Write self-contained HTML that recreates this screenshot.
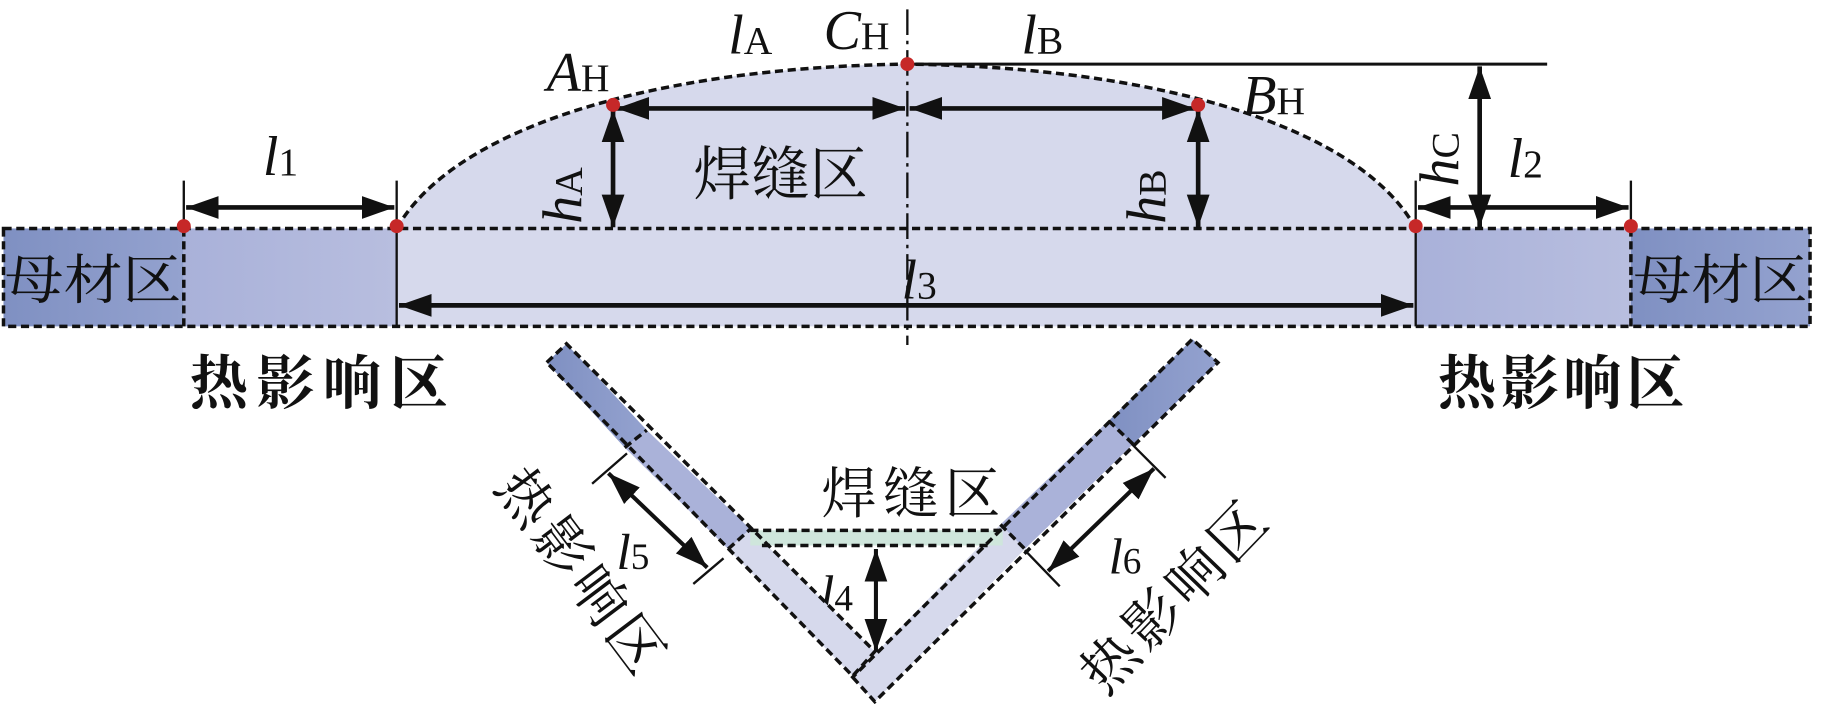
<!DOCTYPE html>
<html><head><meta charset="utf-8"><style>
html,body{margin:0;padding:0;background:#fff;}
svg{display:block;}
</style></head><body>
<svg width="1824" height="704" viewBox="0 0 1568 604" preserveAspectRatio="none" xmlns="http://www.w3.org/2000/svg">
<defs>
<marker id="a" viewBox="0 0 10 10" refX="10" refY="5" markerWidth="28" markerHeight="28" markerUnits="userSpaceOnUse" orient="auto-start-reverse"><path d="M0,1.5 L10,5 L0,8.5 Z" fill="#111"/></marker>
<linearGradient id="bm" x1="0" x2="1"><stop offset="0" stop-color="#7f90c2"/><stop offset="1" stop-color="#94a2cf"/></linearGradient>
<linearGradient id="hz" x1="0" x2="1"><stop offset="0" stop-color="#a9b1d9"/><stop offset="1" stop-color="#b8bedf"/></linearGradient>
</defs>
<rect x="341" y="196" width="876" height="84" fill="#d6d9ec"/>
<path d="M341,196 C390,110 560,58 780,55 C1000,58 1170,110 1217,196 Z" fill="#d6d9ec"/>
<rect x="3" y="196" width="155" height="84" fill="url(#bm)"/>
<rect x="1402" y="196" width="154" height="84" fill="url(#bm)"/>
<rect x="158" y="196" width="183" height="84" fill="url(#hz)"/>
<rect x="1217" y="196" width="185" height="84" fill="url(#hz)"/>
<g stroke="#111" stroke-width="3" fill="none" stroke-dasharray="7,4">
<path d="M3,196 H1556 V280 H3 Z"/>
<path d="M158,196 V280 M1402,196 V280"/>
<path d="M341,196 C390,110 560,58 780,55 C1000,58 1170,110 1217,196"/>
</g>
<path d="M341,196 V280 M1217,196 V280" stroke="#111" stroke-width="2"/>
<path d="M780,8 V296" stroke="#111" stroke-width="2" stroke-dasharray="22,5,3,5"/>
<path d="M780,55 H1330" stroke="#111" stroke-width="2.5"/>
<g stroke="#111" stroke-width="2">
<path d="M158,155 V196 M341,155 V196 M1217,155 V196 M1402,155 V196"/>
</g>
<g stroke="#111" stroke-width="4" fill="none" marker-start="url(#a)" marker-end="url(#a)">
<path d="M160,178 H339"/>
<path d="M1219,178 H1400"/>
<path d="M530,93 H778"/>
<path d="M782,93 H1027"/>
<path d="M1272,57 V195"/>
<path d="M527,94 V195"/>
<path d="M1030,94 V195"/>
<path d="M343,262 H1215"/>
</g>
<g fill="#c62828">
<circle cx="158" cy="194" r="6"/><circle cx="341" cy="194" r="6"/><circle cx="527" cy="90" r="6"/>
<circle cx="780" cy="55" r="6"/><circle cx="1030" cy="90" r="6"/><circle cx="1217" cy="194" r="6"/><circle cx="1402" cy="194" r="6"/>
</g>
<g font-family="'Liberation Serif', 'Times New Roman', serif" font-size="48" fill="#111" style="font-family:'Liberation Serif',serif">
<text x="226" y="150"><tspan font-style="italic">l</tspan><tspan font-size="34">1</tspan></text>
<text x="1296" y="152"><tspan font-style="italic">l</tspan><tspan font-size="34">2</tspan></text>
<text x="775" y="256"><tspan font-style="italic">l</tspan><tspan font-size="34">3</tspan></text>
<text x="626" y="46"><tspan font-style="italic">l</tspan><tspan font-size="34">A</tspan></text>
<text x="878" y="46"><tspan font-style="italic">l</tspan><tspan font-size="34">B</tspan></text>
<text x="470" y="78"><tspan font-style="italic">A</tspan><tspan font-size="34">H</tspan></text>
<text x="708" y="42"><tspan font-style="italic">C</tspan><tspan font-size="34">H</tspan></text>
<text x="1068" y="98"><tspan font-style="italic">B</tspan><tspan font-size="34">H</tspan></text>
<text transform="translate(500,192) rotate(-90)"><tspan font-style="italic">h</tspan><tspan font-size="34">A</tspan></text>
<text transform="translate(1002,192) rotate(-90)"><tspan font-style="italic">h</tspan><tspan font-size="34">B</tspan></text>
<text transform="translate(1254,160) rotate(-90)"><tspan font-style="italic">h</tspan><tspan font-size="34">C</tspan></text>
<text x="530" y="488" font-size="44"><tspan font-style="italic">l</tspan><tspan font-size="32">5</tspan></text>
<text x="953" y="492" font-size="44"><tspan font-style="italic">l</tspan><tspan font-size="32">6</tspan></text>
<text x="705" y="524" font-size="44"><tspan font-style="italic">l</tspan><tspan font-size="32">4</tspan></text>
</g>
<g font-family="'Noto Serif CJK SC', 'Noto Sans CJK SC', serif" fill="#111" style="font-family:'Noto Serif CJK SC',serif">
<text x="596" y="167" font-size="50">焊缝区</text>
<text x="4" y="256" font-size="46" textLength="152" lengthAdjust="spacingAndGlyphs">母材区</text>
<text x="1404" y="256" font-size="46" textLength="150" lengthAdjust="spacingAndGlyphs">母材区</text>
<text x="163" y="346" font-size="50" font-weight="bold" textLength="222">热影响区</text>
<text x="1236" y="346" font-size="50" font-weight="bold" textLength="212">热影响区</text>
<text x="706" y="440" font-size="48" textLength="154">焊缝区</text>
<text font-size="48" transform="translate(424,418) rotate(53)" textLength="205">热影响区</text>
<text font-size="48" transform="translate(950,598) rotate(-46)" textLength="205">热影响区</text>
</g>
<polygon points="470,311 487,295 556,369 537,384" fill="url(#bm)"/>
<polygon points="537,384 556,369 645,454 626,471" fill="#aab2d9"/>
<polygon points="626,471 645,454 752,559 733,580" fill="#d6d9ec"/>
<polygon points="1025,291 1047,311 974,381 953,361" fill="url(#bm)"/>
<polygon points="953,361 974,381 881,471 860,450" fill="#aab2d9"/>
<polygon points="860,450 881,471 752,602 733,581" fill="#d6d9ec"/>
<rect x="645" y="455" width="217" height="13" fill="#cfe6dc"/>
<g stroke="#111" stroke-width="3" fill="none" stroke-dasharray="7,4">
<polygon points="470,311 487,295 752,559 733,580"/>
<polygon points="733,581 752,602 1047,311 1025,291"/>
<path d="M537,384 L556,369 M626,471 L645,454 M953,361 L974,381 M860,450 L881,471"/>
<path d="M645,455 H862 M655,468 H850"/>
</g>
<g stroke="#111" stroke-width="2">
<path d="M509,415 L539,389 M596,501 L622,479 M973,381 L1002,410 M881,472 L911,503"/>
</g>
<g stroke="#111" stroke-width="3.5" fill="none" marker-start="url(#a)" marker-end="url(#a)">
<path d="M523,406 L608,487"/>
<path d="M992,402 L901,490"/>
<path d="M753,471 V559"/>
</g>
</svg>
</body></html>
